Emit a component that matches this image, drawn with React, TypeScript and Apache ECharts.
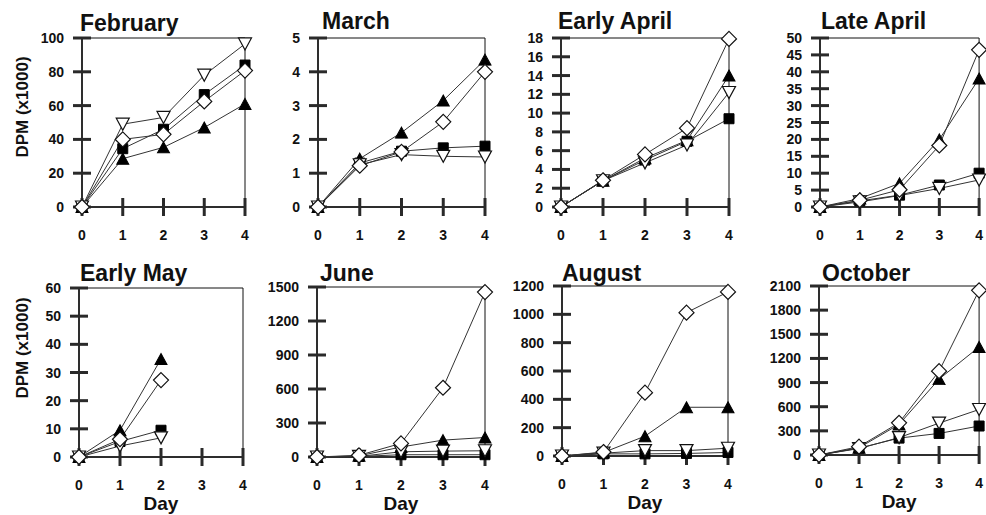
import React, { useEffect, useRef } from "react";
import * as echarts from "echarts";

const days = [0, 1, 2, 3, 4];
const panelTitles = ["February", "March", "Early April", "Late April", "Early May", "June", "August", "October"];

// series per panel: filled square, filled triangle, open down-triangle, open diamond
const febSquare = [0, 34.5, 46, 66.5, 84];
const febTriangle = [0, 28.6, 35.3, 47, 61];
const febDown = [0, 49, 53, 78, 96.5];
const febDiamond = [0, 40, 43, 62.5, 80.7];

const marSquare = [0, 1.3, 1.65, 1.75, 1.8];
const marTriangle = [0, 1.43, 2.2, 3.15, 4.36];
const marDown = [0, 1.25, 1.55, 1.5, 1.48];
const marDiamond = [0, 1.22, 1.63, 2.52, 4.0];

const eAprSquare = [0, 2.8, 5.0, 7.0, 9.4];
const eAprTriangle = [0, 2.8, 5.2, 7.1, 14.0];
const eAprDown = [0, 2.8, 4.7, 6.6, 12.2];
const eAprDiamond = [0, 2.85, 5.6, 8.4, 17.9];

const lAprSquare = [0, 1.8, 3.5, 6.5, 10];
const lAprTriangle = [0, 2.5, 7.0, 20, 38];
const lAprDown = [0, 1.5, 3.4, 5.5, 8];
const lAprDiamond = [0, 2.0, 5.1, 18.2, 46.5];

const eMaySquare = [0, 5.5, 9.5];
const eMayTriangle = [0, 9.5, 34.8];
const eMayDown = [0, 3.9, 6.8];
const eMayDiamond = [0, 6.3, 27.3];

const junSquare = [0, 5, 20, 20, 20];
const junTriangle = [0, 10, 88, 149, 172];
const junDown = [0, 5, 46, 52, 55];
const junDiamond = [0, 15, 120, 611, 1455];

const augSquare = [0, 15, 15, 18, 25];
const augTriangle = [0, 25, 140, 344, 344];
const augDown = [0, 20, 38, 38, 55];
const augDiamond = [0, 28, 447, 1012, 1158];

const octSquare = [0, 85, 210, 268, 360];
const octTriangle = [0, 90, 380, 943, 1343];
const octDown = [0, 80, 216, 396, 565];
const octDiamond = [0, 104, 400, 1042, 2046];

const yMax = [100, 5, 18, 50, 60, 1500, 1200, 2100];
const yStep = [20, 1, 2, 5, 10, 300, 200, 300];

const panelData = [
  [febSquare, febTriangle, febDown, febDiamond],
  [marSquare, marTriangle, marDown, marDiamond],
  [eAprSquare, eAprTriangle, eAprDown, eAprDiamond],
  [lAprSquare, lAprTriangle, lAprDown, lAprDiamond],
  [eMaySquare, eMayTriangle, eMayDown, eMayDiamond],
  [junSquare, junTriangle, junDown, junDiamond],
  [augSquare, augTriangle, augDown, augDiamond],
  [octSquare, octTriangle, octDown, octDiamond],
];

// layout (pixels)
const grids = [
  { left: 82, top: 38, width: 163, height: 169 },
  { left: 318, top: 38, width: 167, height: 169 },
  { left: 561, top: 38, width: 168, height: 169 },
  { left: 820, top: 38, width: 165, height: 169 },
  { left: 79, top: 288, width: 164, height: 169 },
  { left: 317, top: 287, width: 168, height: 170 },
  { left: 562, top: 286, width: 166, height: 170 },
  { left: 819, top: 286, width: 167, height: 169 },
];
const titlePos = [
  { left: 80, top: 11 }, { left: 322, top: 9 }, { left: 558, top: 9 }, { left: 821, top: 9 },
  { left: 80, top: 261 }, { left: 320, top: 261 }, { left: 562, top: 261 }, { left: 822, top: 261 },
];

const FONT = "Liberation Sans, Arial, sans-serif";
const INK = "#111";
const TICK = 9;

export default function App() {
  const ref = useRef<HTMLDivElement>(null);
  useEffect(() => {
    if (!ref.current) return;
    const chart = echarts.init(ref.current, undefined, { renderer: "svg" });
    const xAxis: any[] = [];
    const yAxis: any[] = [];
    const series: any[] = [];
    const title: any[] = [];
    const fmt = (v: number) => String(v);
    grids.forEach((g, i) => {
      const bottomRow = i >= 4;
      title.push({
        text: panelTitles[i],
        left: titlePos[i].left,
        top: titlePos[i].top,
        padding: 0,
        textStyle: { fontFamily: FONT, fontSize: 23, fontWeight: "bold", color: INK },
      });
      xAxis.push({
        type: "value", gridIndex: i, min: 0, max: 4, interval: 1, position: "bottom",
        splitLine: { show: false },
        axisLine: { show: true, onZero: false, lineStyle: { color: INK, width: 1.5 } },
        axisTick: { show: false },
        axisLabel: { show: true, margin: 21, fontFamily: FONT, fontSize: 14, fontWeight: "bold", color: INK, formatter: fmt },
        name: bottomRow ? "Day" : "",
        nameLocation: "middle",
        nameGap: 37,
        nameTextStyle: { fontFamily: FONT, fontSize: 19, fontWeight: "bold", color: INK },
      });
      yAxis.push({
        type: "value", gridIndex: i, min: 0, max: yMax[i], interval: yStep[i], position: "left",
        splitLine: { show: false },
        axisLine: { show: true, onZero: false, lineStyle: { color: INK, width: 1.5 } },
        axisTick: { show: false },
        axisLabel: { show: true, margin: 18, fontFamily: FONT, fontSize: 14, fontWeight: "bold", color: INK, formatter: fmt },
      });
      // crossing tick marks at each axis tick value, placed through the axes' own scales
      const tickData: number[][] = [];
      days.forEach((d) => tickData.push([d, 0, 0]));
      for (let k = 0; k * yStep[i] <= yMax[i] + 1e-9; k++) tickData.push([0, k * yStep[i], 1]);
      series.push({
        type: "custom", xAxisIndex: i, yAxisIndex: i, clip: false, silent: true, z: 1,
        data: tickData,
        renderItem: (_p: any, api: any) => {
          const pt = api.coord([api.value(0), api.value(1)]);
          const vertical = api.value(2) === 0;
          return {
            type: "line",
            shape: vertical
              ? { x1: pt[0], y1: pt[1] - TICK, x2: pt[0], y2: pt[1] + TICK }
              : { x1: pt[0] - TICK, y1: pt[1], x2: pt[0] + TICK, y2: pt[1] },
            style: { stroke: "#2a2a2a", lineWidth: 3 },
          };
        },
      });
      const [sq, tri, down, dia] = panelData[i];
      const mk = (arr: number[]) => arr.map((v, k) => [days[k], v]);
      const base = { type: "line", xAxisIndex: i, yAxisIndex: i, z: 3, lineStyle: { color: "#333", width: 1 }, showAllSymbol: true };
      series.push({ ...base, name: "tri", data: mk(tri), symbol: "triangle", symbolSize: [12, 11], itemStyle: { color: "#000", borderColor: "#000" } });
      series.push({ ...base, name: "sq", data: mk(sq), symbol: "rect", symbolSize: 10, itemStyle: { color: "#000", borderColor: "#000" } });
      series.push({ ...base, name: "down", data: mk(down), symbol: "triangle", symbolRotate: 180, symbolSize: [13, 12], itemStyle: { color: "#fff", borderColor: "#111", borderWidth: 1.2 } });
      series.push({ ...base, name: "dia", data: mk(dia), symbol: "diamond", symbolSize: [15, 15], itemStyle: { color: "#fff", borderColor: "#111", borderWidth: 1.2 } });
    });
    chart.setOption({
      animation: false,
      backgroundColor: "#fff",
      title,
      grid: grids.map((g) => ({ ...g, show: true, borderColor: INK, borderWidth: 1, containLabel: false })),
      xAxis,
      yAxis,
      series,
      graphic: [
        { type: "text", x: 22, y: 107, rotation: Math.PI / 2, style: { text: "DPM (x1000)", fontFamily: FONT, fontSize: 17, fontWeight: "bold", fill: INK, textAlign: "center", textVerticalAlign: "middle" } },
        { type: "text", x: 22, y: 348, rotation: Math.PI / 2, style: { text: "DPM (x1000)", fontFamily: FONT, fontSize: 17, fontWeight: "bold", fill: INK, textAlign: "center", textVerticalAlign: "middle" } },
      ],
    });
    return () => chart.dispose();
  }, []);
  return <div ref={ref} style={{ position: "fixed", left: 0, top: 0, width: 986, height: 515, background: "#fff" }} />;
}
